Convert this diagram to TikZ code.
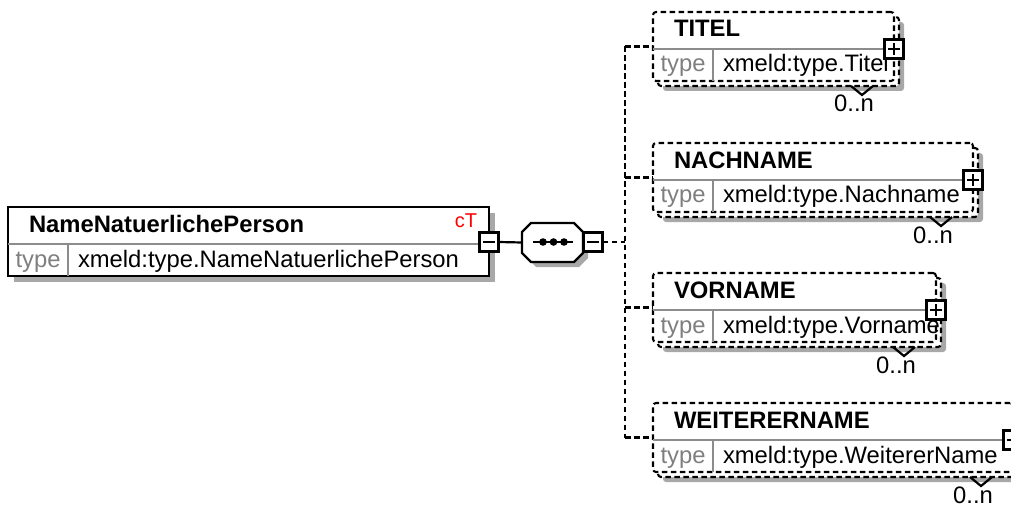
\documentclass[tikz,border=0pt]{standalone}
\usepackage{fontspec}
\setmainfont{Liberation Sans}
\usetikzlibrary{calc}
\definecolor{shadowgray}{HTML}{A8A8A8}
\definecolor{linegray}{HTML}{8C8C8C}
\definecolor{typegray}{HTML}{7F7F7F}
\definecolor{ctred}{HTML}{FF0000}
\tikzset{
  base/.style={font=\fontsize{23.8pt}{28pt}\selectfont, inner sep=0pt, outer sep=0pt},
  hdr/.style={base, font=\fontsize{23.8pt}{28pt}\selectfont\bfseries, anchor=base west},
  tlabel/.style={base, text=typegray, anchor=base},
  tval/.style={base, anchor=base west},
  occ/.style={base, anchor=base},
  dashline/.style={line width=2.1pt, dash pattern=on 5.5pt off 3.5pt},
  sqbox/.style={draw, line width=2.3pt, fill=white, minimum size=19pt, inner sep=0pt, outer sep=0pt},
  divline/.style={draw=linegray, line width=1.8pt},
  conn/.style={line width=2.2pt},
  symb/.style={line width=2.3pt},
}
% #1 name, #2 x, #3 y (top), #4 width, #5 title, #6 type
\newcommand\elembox[6]{%
  \fill[shadowgray, rounded corners=3pt] (#2+10,#3+10) rectangle (#2+#4+10,#3+79);
  \draw[dashline, fill=white, rounded corners=3pt] (#2+5,#3+5) rectangle (#2+#4+5,#3+74);
  \node[dashline, draw, fill=white, rounded corners=3pt, anchor=north west,
        minimum width=#4pt, minimum height=69pt, inner sep=0pt, outer sep=0pt] (#1) at (#2,#3) {};
  \draw[divline] (#2,#3+37) -- (#2+#4,#3+37);
  \draw[divline] (#2+60,#3+37) -- (#2+60,#3+69);
  \node[hdr] (#1-title) at (#2+21,#3+25) {#5};
  \node[tlabel] (#1-tl) at (#2+30,#3+60) {type};
  \node[tval] (#1-tv) at (#2+70,#3+60) {#6};
  \node[sqbox] (#1-x) at (#2+#4,#3+37) {};
  \draw[symb] (#1-x.center) +(-6,0) -- +(6,0) (#1-x.center) +(0,-6) -- +(0,6);
  \draw[line width=2.2pt] (#2+#4-43,#3+74) -- (#2+#4-32,#3+83) -- (#2+#4-21,#3+74);
  \node[occ] (#1-occ) at (#2+#4-40,#3+100) {0..n};
}
\begin{document}
\begin{tikzpicture}[x=1pt,y=-1pt]
\useasboundingbox (0,0) rectangle (1011,505);
\clip (0,0) rectangle (1011,505);

% main element
\fill[shadowgray] (14,213) rectangle (495,282);
\node[draw, line width=2.4pt, fill=white, anchor=north west, minimum width=481pt,
      minimum height=69pt, inner sep=0pt, outer sep=0pt] (main) at (8,207) {};
\draw[divline] (8,244) -- (489,244);
\draw[divline] (68,244) -- (68,276);
\node[hdr] (main-title) at (29,232) {NameNatuerlichePerson};
\node[base, font=\fontsize{20pt}{24pt}\selectfont, text=ctred, anchor=base east] (main-ct) at (477,227) {cT};
\node[tlabel] (main-tl) at (38,267) {type};
\node[tval] (main-tv) at (78,267) {xmeld:type.NameNatuerlichePerson};
\node[sqbox] (mainm) at (489,242) {};
\draw[symb] (mainm.center) +(-6,0) -- +(6,0);

% sequence compositor
\fill[shadowgray] (536,228) -- (579,228) -- (588,237) -- (588,258) -- (579,267) -- (536,267) -- (527,258) -- (527,237) -- cycle;
\node[minimum width=61pt, minimum height=39pt, inner sep=0pt, outer sep=0pt] (seq) at (552.5,242.5) {};
\draw[line width=2.2pt, fill=white] (531,223) -- (574,223) -- (583,232) -- (583,253) -- (574,262) -- (531,262) -- (522,253) -- (522,232) -- cycle;
\draw[line width=2.2pt] (533,242) -- (573,242);
\fill (543,242) circle (3.8pt) (553.5,242) circle (3.8pt) (564,242) circle (3.8pt);
\node[sqbox] (seqm) at (593,242) {};
\draw[symb] (seqm.center) +(-6,0) -- +(6,0);

\draw[conn] (mainm.east) -- (seq.west);

% child elements
\elembox{titel}{653}{12}{241}{TITEL}{xmeld:type.Titel}
\elembox{nach}{653}{143}{320}{NACHNAME}{xmeld:type.Nachname}
\elembox{vor}{653}{273}{283}{VORNAME}{xmeld:type.Vorname}
\elembox{weit}{653}{403}{360}{WEITERERNAME}{xmeld:type.WeitererName}

% connectors
\coordinate (trunk) at (625,242);
\draw[dashline] (seqm.east) -- (trunk);
\draw[dashline] (trunk |- titel.west) -- (trunk |- weit.west);
\draw[dashline] (trunk |- titel.west) -- (titel.west);
\draw[dashline] (trunk |- nach.west) -- (nach.west);
\draw[dashline] (trunk |- vor.west) -- (vor.west);
\draw[dashline] (trunk |- weit.west) -- (weit.west);
\end{tikzpicture}
\end{document}
